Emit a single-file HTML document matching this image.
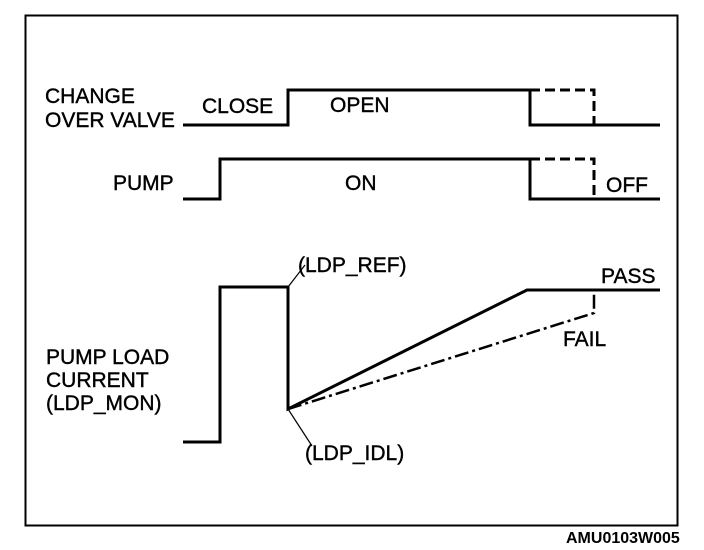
<!DOCTYPE html>
<html><head><style>
html,body{margin:0;padding:0;background:#fff;}
svg{display:block;}
text{font-family:"Liberation Sans",Arial,sans-serif;font-size:21px;fill:#000;stroke:#000;stroke-width:0.4;}
</style></head><body>
<svg width="704" height="550" viewBox="0 0 704 550" xmlns="http://www.w3.org/2000/svg">
<rect x="25.5" y="15.5" width="652" height="510" fill="none" stroke="#000" stroke-width="2"/>
<g fill="none" stroke="#000" stroke-width="3">
<polyline points="183,125 288,125 288,90 530,90 530,125 660,125"/>
<polyline points="183,199 220,199 220,159 530,159 530,199 660,199"/>
<polyline points="183,442 220,442 220,287 288,287 288,409 527,290 660,290"/>
</g>
<g fill="none" stroke="#000" stroke-width="3" stroke-dasharray="10,5">
<polyline points="530,90 594,90 594,125"/>
<polyline points="530,159 594,159 594,199"/>
</g>
<polyline points="288,409 594,313 594,290" fill="none" stroke="#000" stroke-width="2.5" stroke-dasharray="14,4,3,4"/>
<g stroke="#000" stroke-width="1.2">
<line x1="288" y1="287" x2="305" y2="265"/>
<line x1="288" y1="409" x2="312" y2="446"/>
</g>
<text x="45" y="103">CHANGE</text>
<text x="45" y="127">OVER VALVE</text>
<text x="202" y="113">CLOSE</text>
<text x="330" y="112">OPEN</text>
<text x="113" y="190">PUMP</text>
<text x="345" y="190">ON</text>
<text x="606" y="192">OFF</text>
<text x="298" y="272">(LDP_REF)</text>
<text x="601" y="283">PASS</text>
<text x="563" y="346">FAIL</text>
<text x="46" y="364">PUMP LOAD</text>
<text x="46" y="387">CURRENT</text>
<text x="46" y="410">(LDP_MON)</text>
<text x="305" y="460">(LDP_IDL)</text>
<text x="566" y="543" style="font-size:16px;font-weight:bold;stroke-width:0">AMU0103W005</text>
</svg>
</body></html>
